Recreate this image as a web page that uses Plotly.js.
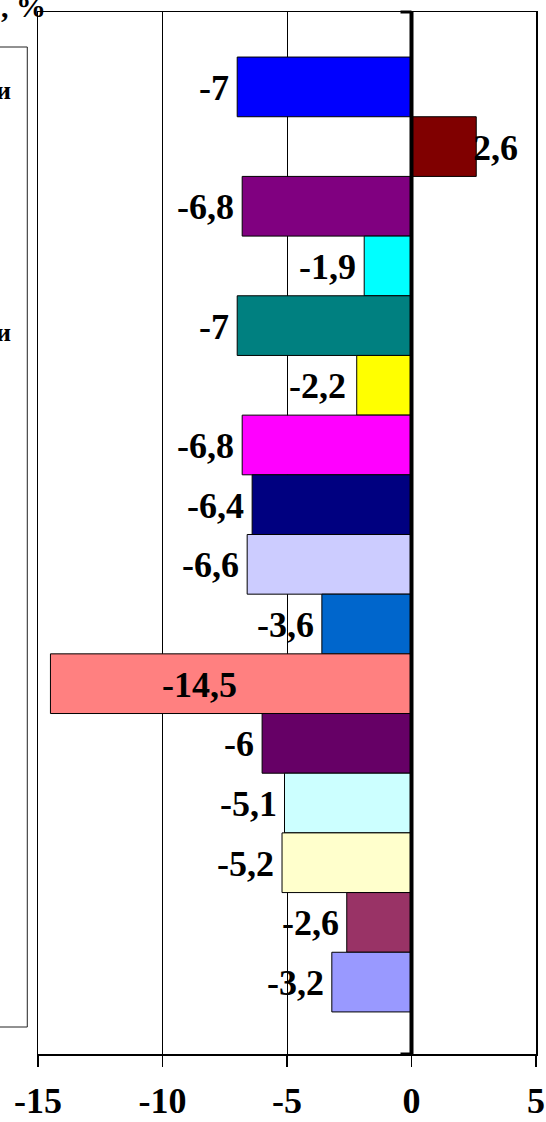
<!DOCTYPE html>
<html><head><meta charset="utf-8">
<script src="https://cdn.plot.ly/plotly-3.0.1.min.js"></script>
<style>html,body{margin:0;padding:0;background:#fff;}#chart{width:546px;height:1122px;}</style>
</head><body><div id="chart"></div>
<script>
// Data (top to bottom)
const values = [-7, 2.6, -6.8, -1.9, -7, -2.2, -6.8, -6.4, -6.6, -3.6, -14.5, -6, -5.1, -5.2, -2.6, -3.2];
const valueLabels = ['-7', '2,6', '-6,8', '-1,9', '-7', '-2,2', '-6,8', '-6,4', '-6,6', '-3,6', '-14,5', '-6', '-5,1', '-5,2', '-2,6', '-3,2'];
const seriesIndex = values.map((_, i) => i);
const xTickVals = [-15, -10, -5, 0, 5];
const xTickText = ['-15', '-10', '-5', '0', '5'];
const titleText = ', %';
const legendFragments = ['и', 'и'];

// Styles
const colors = ['#0000FF', '#800000', '#800080', '#00FFFF', '#008080', '#FFFF00', '#FF00FF', '#000080',
  '#CCCCFF', '#0066CC', '#FF8080', '#660066', '#CCFFFF', '#FFFFCC', '#993366', '#9999FF'];
const labelShift = [-6, -5, -6, -6, -6, -9, -6, -6, -6, -6, 110, -6, -6, -6, -6, -6];
const serif = 'Liberation Serif, Times New Roman, serif';

const trace = {
  type: 'bar', orientation: 'h',
  x: values, y: seriesIndex, width: 1,
  marker: {color: colors, line: {color: '#000', width: 1}},
  hoverinfo: 'none'
};

const annotations = values.map((v, i) => {
  const inside = labelShift[i] > 0;
  return {
    x: v, y: i, xref: 'x', yref: 'y', text: valueLabels[i], showarrow: false,
    xanchor: (v < 0 && !inside) ? 'right' : 'left', yanchor: 'middle',
    xshift: labelShift[i], yshift: -1,
    font: {family: serif, size: 36, color: '#000', weight: 'bold'}
  };
});
annotations.push({
  x: 0.0207, y: 0.9914, xref: 'paper', yref: 'paper', text: titleText, showarrow: false,
  xanchor: 'right', yanchor: 'bottom', yshift: -4, font: {family: serif, size: 30, color: '#000', weight: 'bold'}
});
const legendY = [0.9245, 0.692];
legendFragments.forEach((t, k) => annotations.push({
  x: -0.0496, y: legendY[k], xref: 'paper', yref: 'paper', text: t, showarrow: false,
  xanchor: 'right', yanchor: 'middle', font: {family: serif, size: 26, color: '#000', weight: 'bold'}
}));

const shapes = [
  {type: 'line', xref: 'x', yref: 'paper', x0: 0, x1: 0, y0: 0, y1: 1, line: {color: '#000', width: 4}, layer: 'above'},
  {type: 'line', xref: 'x', xsizemode: 'pixel', xanchor: 0, x0: -11, x1: 0, yref: 'paper', y0: 1, y1: 1, line: {color: '#000', width: 3}, layer: 'above'},
  {type: 'line', xref: 'x', xsizemode: 'pixel', xanchor: 0, x0: -11, x1: 0, yref: 'paper', y0: 0, y1: 0, line: {color: '#000', width: 3}, layer: 'above'},
  {type: 'rect', xref: 'paper', yref: 'paper', x0: -0.3, x1: -0.0215, y0: 0.0259, y1: 0.9664, line: {color: '#222', width: 1}, fillcolor: 'rgba(0,0,0,0)', layer: 'above'}
];

const layout = {
  width: 546, height: 1122,
  margin: {l: 38, r: 10, t: 12, b: 68},
  paper_bgcolor: '#fff', plot_bgcolor: '#fff',
  showlegend: false,
  xaxis: {
    range: [-15, 5], tickvals: xTickVals, ticktext: xTickText,
    showgrid: true, gridcolor: '#000', gridwidth: 1, zeroline: false,
    showline: true, linecolor: '#000', linewidth: 1.5, mirror: true,
    ticks: 'outside', ticklen: 11, tickwidth: 1.5, tickcolor: '#000',
    ticklabelstandoff: 3,
    tickfont: {family: serif, size: 36, color: '#000', weight: 'bold'},
    fixedrange: true
  },
  yaxis: {
    range: [16.205, -1.255], showgrid: false, zeroline: false, showticklabels: false,
    showline: true, linecolor: '#000', linewidth: 1.5, mirror: true, ticks: '', fixedrange: true
  },
  annotations: annotations,
  shapes: shapes
};

Plotly.newPlot('chart', [trace], layout, {displayModeBar: false, staticPlot: true});
</script>
</body></html>
